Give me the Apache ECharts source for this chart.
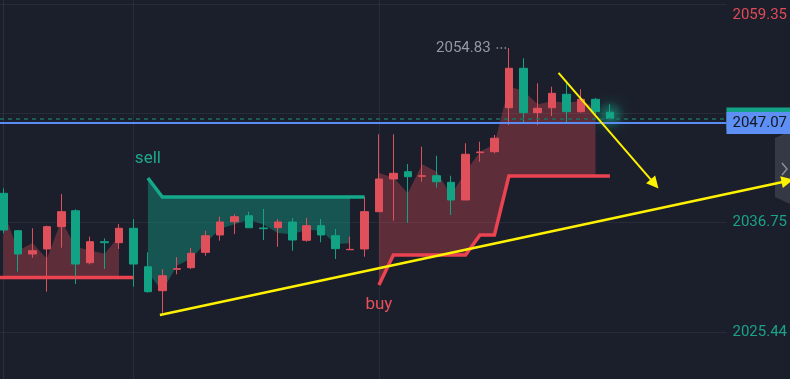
<!DOCTYPE html>
<html><head><meta charset="utf-8">
<script src="https://cdn.jsdelivr.net/npm/echarts@6/dist/echarts.min.js"></script>
<style>html,body{margin:0;padding:0;background:#1b1f2b;}#c{width:790px;height:379px;}</style>
</head><body><div id="c"></div>
<script>
// ---- candle data (bar index 0..42) ----
const opens = [2039.79,2035.92,2033.51,2034.03,2036.34,2037.99,2032.61,2034.78,2034.68,2036.17,
 2032.19,2029.71,2031.93,2032.09,2033.68,2035.48,2036.85,2037.47,2036.20,2036.23,
 2036.82,2034.93,2036.44,2035.40,2033.95,2034.03,2037.89,2041.27,2042.03,2041.55,
 2041.61,2040.93,2039.10,2044.00,2044.10,2048.65,2052.73,2048.14,2048.65,2050.04,
 2048.24,2049.52,2048.18];
const closes = [2035.99,2033.51,2033.85,2036.34,2037.89,2032.47,2034.78,2034.68,2036.17,2032.47,
 2029.61,2031.26,2031.99,2033.58,2035.40,2036.82,2037.37,2036.23,2036.13,2036.82,
 2034.96,2036.44,2035.48,2034.06,2033.99,2037.89,2041.27,2041.86,2041.51,2041.61,
 2040.99,2039.10,2043.83,2044.07,2045.49,2052.73,2048.14,2048.59,2050.14,2048.24,
 2049.52,2048.24,2047.54];
const lows = [2035.65,2031.68,2033.13,2029.61,2034.16,2030.40,2032.44,2031.96,2034.03,2030.12,
 2029.50,2027.43,2031.41,2031.96,2033.33,2034.89,2035.58,2036.23,2034.96,2034.26,
 2033.85,2034.78,2034.72,2032.99,2033.95,2033.23,2037.86,2036.96,2036.75,2040.99,
 2040.37,2037.55,2039.10,2043.06,2043.93,2046.86,2047.04,2046.86,2047.79,2047.10,
 2048.14,2047.69,2047.45];
const highs = [2040.31,2035.99,2036.17,2036.44,2039.72,2038.14,2035.30,2035.13,2036.61,2037.13,
 2033.68,2031.93,2033.17,2034.13,2035.92,2037.37,2037.62,2037.89,2038.17,2037.13,
 2037.24,2037.24,2037.13,2036.10,2035.30,2039.44,2045.90,2045.90,2042.83,2044.62,
 2043.68,2041.61,2044.97,2045.13,2045.83,2054.83,2053.77,2051.18,2050.83,2051.24,
 2050.56,2049.66,2049.01];

// ---- supertrend segments ----
const upStopLeftStart = -1;   // bars -1..9
const upStopLeft = [2031.08,2031.08,2031.08,2031.08,2031.08,2031.08,2031.08,2031.08,2031.08,2031.08,2031.08];
const downStopStart = 10;     // bars 10..25
const downStop = [2041.38,2039.41,2039.41,2039.41,2039.41,2039.41,2039.41,2039.41,2039.41,2039.41,2039.41,2039.41,2039.41,2039.41,2039.41,2039.41];
const upStopRightStart = 26;  // bars 26..42
const upStopRight = [2030.30,2033.41,2033.41,2033.41,2033.41,2033.41,2033.41,2035.48,2035.48,2041.58,2041.58,2041.58,2041.58,2041.58,2041.58,2041.58,2041.58];
// fill ranges (bar from, bar to, segment)
const fillRanges = [[0,8,0],[10,24,1],[26,41,2]];

// ---- axis / price levels ----
const gridPrices = [2059.35, 2048.05, 2036.75, 2025.44];
const labelPrices = [2059.35, 2036.75, 2025.44];
const sessionBars = [9, 26];
const userLinePrice = 2047.07;
const lastPrice = 2047.54;
const highIdx = 35, highVal = 2054.83;
const annotations = [{text:'sell', x:10, y:2043.34}, {text:'buy', x:26, y:2028.23}];
const arrows = [[[10.83,2027.19],[54.29,2041.07]], [[38.44,2052.25],[45.09,2040.76]]];

const RED='#e0505b', TEAL='#12a385', FONT='Roboto, "Noto Sans", sans-serif';
const segments = [
  {start:upStopLeftStart, vals:upStopLeft, color:'#ec4351'},
  {start:downStopStart, vals:downStop, color:'#14a98a'},
  {start:upStopRightStart, vals:upStopRight, color:'#ec4351'}
];
const fillColors = ['rgba(229,77,90,0.33)','rgba(20,160,135,0.42)','rgba(229,77,90,0.33)'];
const lastIdx = opens.length-1;

const candleData = opens.map((o,i)=>{
  const item = {value:[i,o,closes[i],lows[i],highs[i]]};
  if (i === lastIdx) item.itemStyle = {shadowBlur:18, shadowColor:'rgba(20,215,175,1)'};
  return item;
});

const series = [];
// grid lines
series.push({type:'line', data:[], z:0, silent:true,
  markLine:{z:0, silent:true, symbol:['none','none'], label:{show:false},
    lineStyle:{color:'#272c38', width:1, type:'solid'},
    data:[...gridPrices.map(v=>({yAxis:v})), ...sessionBars.map(v=>({xAxis:v}))]}});
// fills
series.push({type:'custom', coordinateSystem:'cartesian2d', z:1, silent:true, clip:true,
  data: fillRanges.map(r=>[r[0], r[1]]),
  renderItem(params, api){
    const r = fillRanges[params.dataIndex], seg = segments[r[2]];
    const pts = [];
    for (let i=r[0]; i<=r[1]; i++) pts.push(api.coord([i, seg.vals[i-seg.start]]));
    for (let i=r[1]; i>=r[0]; i--) pts.push(api.coord([i, (highs[i]+lows[i])/2]));
    return {type:'polygon', shape:{points:pts}, style:{fill:fillColors[r[2]]}};
  }});
// glow behind the live candle
series.push({type:'scatter', z:1, silent:true, symbolSize:30,
  data:[[lastIdx, (opens[lastIdx]+closes[lastIdx])/2]],
  itemStyle:{color:{type:'radial', x:0.5, y:0.5, r:0.5, colorStops:[
    {offset:0, color:'rgba(20,200,160,0.55)'}, {offset:0.5, color:'rgba(20,200,160,0.25)'}, {offset:1, color:'rgba(20,200,160,0)'}]}}});
// candles
series.push({type:'candlestick', z:2, barWidth:8, data:candleData,
  itemStyle:{color:RED, color0:TEAL, borderColor:RED, borderColor0:TEAL, borderWidth:1},
  markLine:{z:6, silent:true, symbol:['none','none'],
    lineStyle:{type:[1.5,2.5], color:'#9598a1', width:1.5},
    label:{show:true, position:'start', formatter:highVal.toFixed(2), color:'#9598a1', fontSize:15, fontFamily:FONT, distance:6, padding:[4,0,0,0]},
    data:[[{coord:[highIdx-0.85, highVal]},{coord:[highIdx-0.08, highVal]}]]}});
// stop lines
segments.forEach((seg,k)=>{
  const s = {type:'line', z:3, silent:true, showSymbol:false, symbol:'none',
    data: seg.vals.map((v,j)=>[seg.start+j, v]),
    lineStyle:{color:seg.color, width:3.5, join:'miter'}};
  const ann = annotations.find(a=>a.x===seg.start);
  if (ann) s.markPoint = {symbol:'circle', symbolSize:0, silent:true,
    label:{show:true, position:'inside', formatter:ann.text, color: k===1 ? '#1fa88c' : '#e8505b', fontSize:17, fontFamily:FONT},
    data:[{coord:[ann.x, ann.y]}]};
  series.push(s);
});
// last price dashed (its axis tag sits behind the user-line tag)
series.push({type:'line', data:[], z:4, silent:true,
  markLine:{z:4, silent:true, symbol:['none','none'],
    lineStyle:{color:'#1d6f61', width:1.5, type:[4,4]},
    label:{show:true, position:'end', distance:0, formatter:lastPrice.toFixed(2), color:'#14a287', fontSize:15, fontFamily:FONT,
      backgroundColor:'#14a287', padding:[3.5,6,3.5,6], lineHeight:15},
    data:[{yAxis:lastPrice}]}});
// user horizontal line
series.push({type:'line', data:[], z:5, silent:true,
  markLine:{z:5, silent:true, symbol:['none','none'],
    lineStyle:{color:'#5b8cf3', width:2, type:'solid'},
    label:{show:true, position:'end', distance:0, formatter:userLinePrice.toFixed(2), color:'#131722', fontSize:15, fontFamily:FONT,
      backgroundColor:'#5e8ff5', padding:[3.5,6,3.5,6], lineHeight:15},
    data:[{yAxis:userLinePrice}]}});
// yellow arrows
series.push({type:'lines', coordinateSystem:'cartesian2d', z:10, clip:false, silent:true,
  symbol:['none','triangle'], symbolSize:[1,12],
  lineStyle:{color:'#fff200', width:2.5, opacity:1, curveness:0},
  data: arrows.map((c,i)=>({coords:c, lineStyle:{width: i===0 ? 2.5 : 2}}))});

const yMax = 2059.80, yMin = 2020.57;
const option = {
  backgroundColor:'#1b1f2b', animation:false,
  textStyle:{fontFamily:FONT},
  grid:{left:0, right:63, top:0, bottom:0},
  xAxis:{type:'value', min:-0.242, max:50.07, show:false},
  yAxis:{type:'value', position:'right', min:yMin, max:yMax,
    axisLine:{show:true, lineStyle:{color:'#2b303c', width:1}},
    axisTick:{show:false}, splitLine:{show:false},
    axisLabel:{customValues:labelPrices, margin:6, fontSize:15, fontFamily:FONT,
      formatter:(v)=> Math.abs(v-labelPrices[0])<0.001 ? '{hi|'+v.toFixed(2)+'}' : '{lo|'+v.toFixed(2)+'}',
      rich:{hi:{color:'#e04b58', fontSize:15, fontFamily:FONT, padding:[21,0,0,0]},
            lo:{color:'#1ba288', fontSize:15, fontFamily:FONT}}}},
  graphic:[
    {type:'polygon', z:0, shape:{points:[[775,138],[790,131],[790,204],[775,197]]}, style:{fill:'#353945'}},
    {type:'polyline', z:1, shape:{points:[[782,163],[787,169],[782,175]]}, style:{stroke:'#8a8e99', lineWidth:1.5, fill:null}}
  ],
  series
};
const chart = echarts.init(document.getElementById('c'));
chart.setOption(option);
</script></body></html>
